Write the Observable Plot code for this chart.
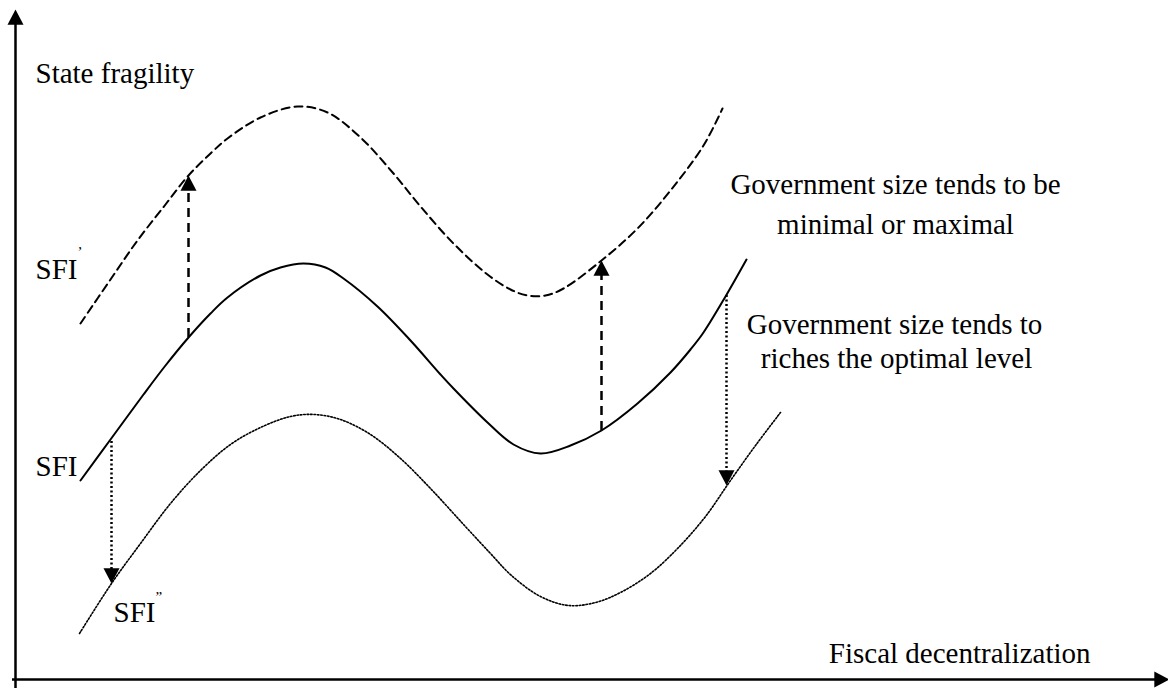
<!DOCTYPE html>
<html>
<head>
<meta charset="utf-8">
<script src="https://cdn.jsdelivr.net/npm/d3@7"></script>
<script src="https://cdn.jsdelivr.net/npm/@observablehq/plot@0.6"></script>
<style>
  html, body { margin: 0; padding: 0; background: #fff; }
  #chart { width: 1168px; height: 688px; }
</style>
</head>
<body>
<div id="chart"></div>
<script>
// Curve points: x = fiscal decentralization, y = state fragility
const sfiX   = [80, 110, 143, 165, 188, 210, 227, 260, 280, 303, 325, 343, 377, 410, 440, 453, 487, 513, 540, 570, 601, 637, 670, 690, 703, 725, 746];
const sfiY   = [208, 249, 294, 323, 351, 375, 391, 413, 421, 425, 421, 410, 382, 348, 314, 300, 266, 244, 235, 243, 258, 285, 316, 339, 356, 392, 429];

const sfiUpX = [80, 110, 137, 165, 188, 210, 227, 260, 297, 327, 360, 393, 420, 453, 487, 510, 527, 545, 563, 601, 637, 670, 703, 722];
const sfiUpY = [365, 409, 448, 484, 513, 535, 550, 571, 582, 576, 551, 515, 482, 445, 414, 399, 393, 393, 400, 428, 460, 498, 543, 580];

const sfiDnX = [79, 111, 140, 170, 200, 230, 260, 290, 314, 340, 370, 400, 430, 464, 490, 511, 540, 568, 595, 620, 650, 678, 705, 730, 755, 780];
const sfiDnY = [55, 105, 145, 185, 218, 244, 261, 272, 274, 269, 254, 230, 200, 163, 135, 113, 92, 83, 86, 96, 115, 141, 172, 208, 243, 276];

// Shift arrows: x, from, to
const upArrowX = [188, 601];
const upArrowFrom = [351, 258];
const upArrowTo = [513, 428];
const downArrowX = [111, 726];
const downArrowFrom = [247, 393];
const downArrowTo = [105, 203];

// Axis extents
const xAxisEnd = 1169;
const yAxisEnd = 679;

// Labels
const labelText = ["State fragility", "Government size tends to be", "minimal or maximal",
                   "Government size tends to", "riches the optimal level", "Fiscal decentralization",
                   "SFI", "SFI", "SFI"];
const labelX = [35, 895, 895, 894, 896, 1090, 35, 35, 113];
const labelY = [606, 495, 455, 355, 321, 26, 410, 213, 67];
const labelAnchor = ["start", "middle", "middle", "middle", "middle", "end", "start", "start", "start"];
const supText = ["\u2019", "\u201D"];
const supX = [77, 155];
const supY = [432, 87];

const pts = (xs, ys) => xs.map((x, i) => ({x, y: ys[i]}));
const sfi = pts(sfiX, sfiY);
const sfiUp = pts(sfiUpX, sfiUpY);
const sfiDn = pts(sfiDnX, sfiDnY);
const upArrows = upArrowX.map((x, i) => ({x, y1: upArrowFrom[i], y2: upArrowTo[i]}));
const downArrows = downArrowX.map((x, i) => ({x, y1: downArrowFrom[i], y2: downArrowTo[i]}));
const labels = labelText.map((t, i) => ({t, x: labelX[i], y: labelY[i], a: labelAnchor[i]}));
const sups = supText.map((t, i) => ({t, x: supX[i], y: supY[i]}));

// Filled arrowhead symbols with the tip at the anchor point
function head(dir) {
  return {
    draw(ctx, size) {
      const r = Math.sqrt(size / Math.PI);
      const L = r * 1.9;
      const P = {
        up:    [[0, 0], [-r, L], [r, L]],
        down:  [[0, 0], [-r, -L], [r, -L]],
        right: [[0, 0], [-L, -r], [-L, r]]
      }[dir];
      ctx.moveTo(P[0][0], P[0][1]);
      ctx.lineTo(P[1][0], P[1][1]);
      ctx.lineTo(P[2][0], P[2][1]);
      ctx.closePath();
    }
  };
}

const font = "'Liberation Serif', 'Times New Roman', serif";
const textOpts = (anchor) => ({fontFamily: font, fontSize: 29, fill: "black", lineAnchor: "bottom", textAnchor: anchor});

const labelGroups = ["start", "middle", "end"].map(a =>
  Plot.text(labels.filter(d => d.a === a), {x: "x", y: "y", text: "t", ...textOpts(a)}));

const plot = Plot.plot({
  width: 1168,
  height: 688,
  margin: 0,
  x: {domain: [0, 1168], axis: null},
  y: {domain: [0, 688], axis: null},
  style: {background: "white", fontFamily: font},
  marks: [
    // axes
    Plot.ruleX([15], {y1: 0, y2: yAxisEnd - 8, stroke: "black", strokeWidth: 2.5}),
    Plot.ruleY([9], {x1: 12, x2: xAxisEnd - 8, stroke: "black", strokeWidth: 2.5}),
    Plot.dot([{x: 15, y: yAxisEnd}], {x: "x", y: "y", symbol: head("up"), r: 8, fill: "black", stroke: "none"}),
    Plot.dot([{x: xAxisEnd, y: 9}], {x: "x", y: "y", symbol: head("right"), r: 8, fill: "black", stroke: "none"}),

    // curves
    Plot.line(sfi, {x: "x", y: "y", curve: "catmull-rom", stroke: "black", strokeWidth: 2}),
    Plot.line(sfiUp, {x: "x", y: "y", curve: "catmull-rom", stroke: "black", strokeWidth: 2, strokeDasharray: "8,5"}),
    Plot.line(sfiDn, {x: "x", y: "y", curve: "catmull-rom", stroke: "black", strokeWidth: 1.6, strokeDasharray: "1.6,1.8"}),

    // shift arrows
    Plot.ruleX(upArrows, {x: "x", y1: "y1", y2: d => d.y2 - 10, stroke: "black", strokeWidth: 2.5, strokeDasharray: "9,6"}),
    Plot.dot(upArrows, {x: "x", y: "y2", symbol: head("up"), r: 8, fill: "black", stroke: "none"}),
    Plot.ruleX(downArrows, {x: "x", y1: "y1", y2: d => d.y2 + 10, stroke: "black", strokeWidth: 2.5, strokeDasharray: "2,2.5"}),
    Plot.dot(downArrows, {x: "x", y: "y2", symbol: head("down"), r: 8, fill: "black", stroke: "none"}),

    // labels
    ...labelGroups,
    Plot.text(sups, {x: "x", y: "y", text: "t", fontFamily: font, fontSize: 15, fill: "black", lineAnchor: "bottom", textAnchor: "start"})
  ]
});

document.getElementById("chart").appendChild(plot);
</script>
</body>
</html>
